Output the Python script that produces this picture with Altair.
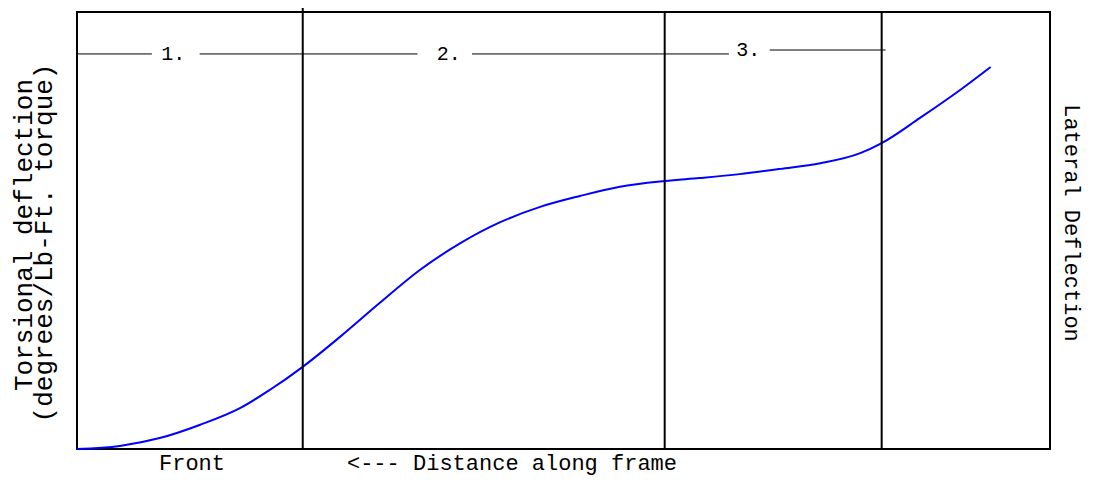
import altair as alt
import pandas as pd

# Curve (distance along frame, torsional deflection) in relative units 0-100
curve_x = [0, 4.4, 8.5, 12.6, 16.8, 19.8, 23.2, 27.0, 31.1, 35.2, 39.4, 43.5, 47.6,
           51.7, 55.8, 60.4, 64.0, 68.1, 72.3, 76.4, 80.5, 82.7, 86.6, 90.8, 93.9]
curve_y = [0, 0.7, 2.5, 5.5, 9.4, 13.5, 18.8, 25.6, 33.4, 40.9, 47.1, 51.9, 55.4,
           57.9, 60.0, 61.3, 62.0, 62.9, 64.1, 65.4, 67.7, 70.0, 75.7, 82.2, 87.4]

# Section boundaries
section_bounds = [23.2, 60.4, 82.7]

# Section label lines and labels
seg_x1 = [0, 12.6, 40.6, 71.2]
seg_x2 = [7.7, 35.0, 67.0, 83.1]
seg_y = [90.4, 90.4, 90.4, 91.3]
label_text = ["1.", "2.", "3."]
label_x = [9.9, 38.2, 69.0]
label_y = [90.4, 90.4, 91.3]

FONT = "Liberation Mono"
W, H = 973, 437

curve = pd.DataFrame({"x": curve_x, "y": curve_y})
bounds = pd.DataFrame({"x": section_bounds, "top": [-4, 0, 0]})
segs = pd.DataFrame({"x": seg_x1, "x2": seg_x2, "y": seg_y})
labels = pd.DataFrame({"x": label_x, "y": label_y, "t": label_text})

xs = alt.Scale(domain=[0, 100])
ys = alt.Scale(domain=[0, 100])

line = alt.Chart(curve).mark_line(color="#0000FF", strokeWidth=2, interpolate="monotone").encode(
    x=alt.X("x:Q", scale=xs, axis=None),
    y=alt.Y("y:Q", scale=ys, axis=None),
)

vrules = alt.Chart(bounds).mark_rule(color="black", strokeWidth=2).encode(
    x=alt.X("x:Q", scale=xs, axis=None),
    y=alt.Y("top:Q", scale=None),
    y2=alt.value(H),
)

hsegs = alt.Chart(segs).mark_rule(color="black", strokeWidth=1).encode(
    x=alt.X("x:Q", scale=xs, axis=None),
    x2="x2:Q",
    y=alt.Y("y:Q", scale=ys, axis=None),
)

lbls = alt.Chart(labels).mark_text(font=FONT, fontSize=20, color="black",
                                   align="center", baseline="middle").encode(
    x=alt.X("x:Q", scale=xs, axis=None),
    y=alt.Y("y:Q", scale=ys, axis=None),
    text="t:N",
)

outer = pd.DataFrame({
    "t": ["Torsional deflection", "(degrees/Lb-Ft. torque)", "Lateral Deflection",
          "Front", "<--- Distance along frame"],
})

def outer_text(i, px, py, angle, size, baseline="middle"):
    return alt.Chart(outer.iloc[[i]]).mark_text(
        font=FONT, fontSize=size, color="black", align="center", baseline=baseline, angle=angle
    ).encode(x=alt.value(px), y=alt.value(py), text="t:N")

t1 = outer_text(0, -53, 223, 270, 26)
t2 = outer_text(1, -33, 231, 270, 26)
t3 = outer_text(2, 995, 211, 90, 22)
t4 = outer_text(3, 115, 458, 0, 22, "alphabetic")
t5 = outer_text(4, 435, 458, 0, 22, "alphabetic")

chart = alt.layer(line, vrules, hsegs, lbls, t1, t2, t3, t4, t5).properties(
    width=W, height=H,
    autosize=alt.AutoSizeParams(type="none"),
    padding={"left": 69, "top": 4, "right": 35, "bottom": 28},
    background="white",
).configure_view(stroke="black", strokeWidth=2)

chart.save("out.html", embed_options={"renderer": "svg", "actions": False})
